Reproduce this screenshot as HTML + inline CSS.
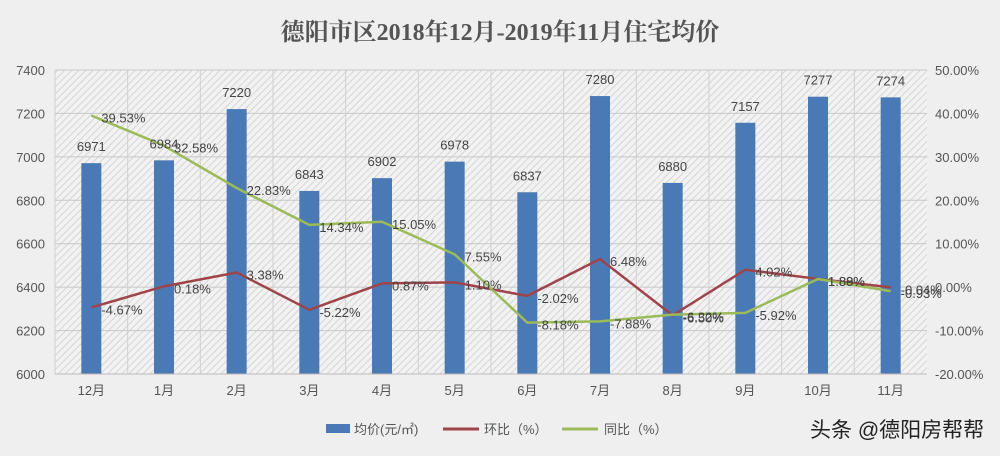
<!DOCTYPE html>
<html><head><meta charset="utf-8">
<style>
body{margin:0;background:#efefef;}
svg{display:block;font-family:"Liberation Sans","Noto Sans CJK SC",sans-serif;}
</style></head>
<body>
<svg id="chart" width="1000" height="456" viewBox="0 0 1000 456">
<defs>
<pattern id="hatch" width="5" height="5" patternUnits="userSpaceOnUse" patternTransform="rotate(45)">
<rect width="5" height="5" fill="#f2f2f2"/>
<line x1="0" y1="0" x2="0" y2="5" stroke="#cccccc" stroke-width="1.5"/>
</pattern>
</defs>
<rect width="1000" height="456" fill="#efefef"/>
<text x="500" y="40" text-anchor="middle" font-size="24" font-weight="bold" fill="#555" font-family="'Liberation Serif','Noto Serif CJK SC',serif">德阳市区2018年12月-2019年11月住宅均价</text>
<rect x="55" y="70" width="872" height="304" fill="url(#hatch)"/>
<g id="grid"></g><g id="bars"></g><g id="lines"></g><g id="labels"></g><g id="axes"></g>
<g>
<rect x="326" y="424" width="24" height="9" fill="#4a7ab5"/>
<text x="354" y="434" font-size="13" fill="#555">均价(元/㎡)</text>
<line x1="443" y1="429" x2="479" y2="429" stroke="#9e444a" stroke-width="3"/>
<text x="484" y="434" font-size="13" fill="#555">环比（%）</text>
<line x1="562" y1="429" x2="598" y2="429" stroke="#9bbb59" stroke-width="3"/>
<text x="604" y="434" font-size="13" fill="#555">同比（%）</text>
</g>
<text x="810" y="437" font-size="21" fill="#222">头条 @德阳房帮帮</text>
</svg>
<script>
const categories=["12月","1月","2月","3月","4月","5月","6月","7月","8月","9月","10月","11月"];
const prices=[6971,6984,7220,6843,6902,6978,6837,7280,6880,7157,7277,7274];
const mom=[-4.67,0.18,3.38,-5.22,0.87,1.10,-2.02,6.48,-6.50,4.02,1.89,-0.04];
const yoy=[39.53,32.58,22.83,14.34,15.05,7.55,-8.18,-7.88,-6.32,-5.92,1.88,-0.93];
const leftTicks=[6000,6200,6400,6600,6800,7000,7200,7400];
const rightTicks=[-20,-10,0,10,20,30,40,50];
const NS="http://www.w3.org/2000/svg";
const X0=55,X1=927,Y0=374,Y1=70;
const band=(X1-X0)/categories.length;
const xc=i=>X0+band*(i+0.5);
const yL=v=>Y0-(v-6000)/(7400-6000)*(Y0-Y1);
const yR=v=>Y0-(v+20)/70*(Y0-Y1);
function mk(tag,attrs,parent,txt){const e=document.createElementNS(NS,tag);for(const k in attrs)e.setAttribute(k,attrs[k]);if(txt!==undefined)e.textContent=txt;document.getElementById(parent).appendChild(e);return e;}
leftTicks.forEach(t=>{
 const g=mk('line',{x1:X0,x2:X1,y1:yL(t),y2:yL(t),stroke:'#c8c8c8','stroke-width':1},'grid');
 
 
 const l=mk('text',{x:X0-10,y:yL(t)+5,'text-anchor':'end','font-size':13,fill:'#555'},'axes',t);
 
 
});
rightTicks.forEach(t=>{
 const l=mk('text',{x:935,y:yR(t)+5,'font-size':13,fill:'#555'},'axes',t.toFixed(2)+'%');
 
 
});
categories.forEach((c,i)=>{
 const v=mk('line',{x1:X0+band*i,x2:X0+band*i,y1:Y1,y2:Y0,stroke:'#d0d0d0'},'grid');
 
 
 const l=mk('text',{x:xc(i),y:395,'text-anchor':'middle','font-size':13,fill:'#555'},'axes',c);
 
 
 const b=mk('rect',{x:xc(i)-10,y:yL(prices[i]),width:20,height:Y0-yL(prices[i]),fill:'#4a7ab5'},'bars');
 
 
 const bl=mk('text',{x:xc(i),y:yL(prices[i])-12,'text-anchor':'middle','font-size':13,fill:'#444'},'labels',prices[i]);
 
 
});
const ax=mk('line',{x1:X0,x2:X1,y1:Y0,y2:Y0,stroke:'#bbb'},'axes');


function series(vals,color,name){
 const p=mk('polyline',{points:vals.map((v,i)=>xc(i)+','+yR(v)).join(' '),fill:'none',stroke:color,'stroke-width':2.5,'stroke-linejoin':'round'},'lines');
 
 
 vals.forEach((v,i)=>{
  const t=mk('text',{x:xc(i)+10,y:yR(v)+7,'font-size':13,fill:'#444'},'labels',v.toFixed(2)+'%');
  
  
 });
}
series(mom,'#9e444a','mom');
series(yoy,'#9bbb59','yoy');
</script>
</body></html>
